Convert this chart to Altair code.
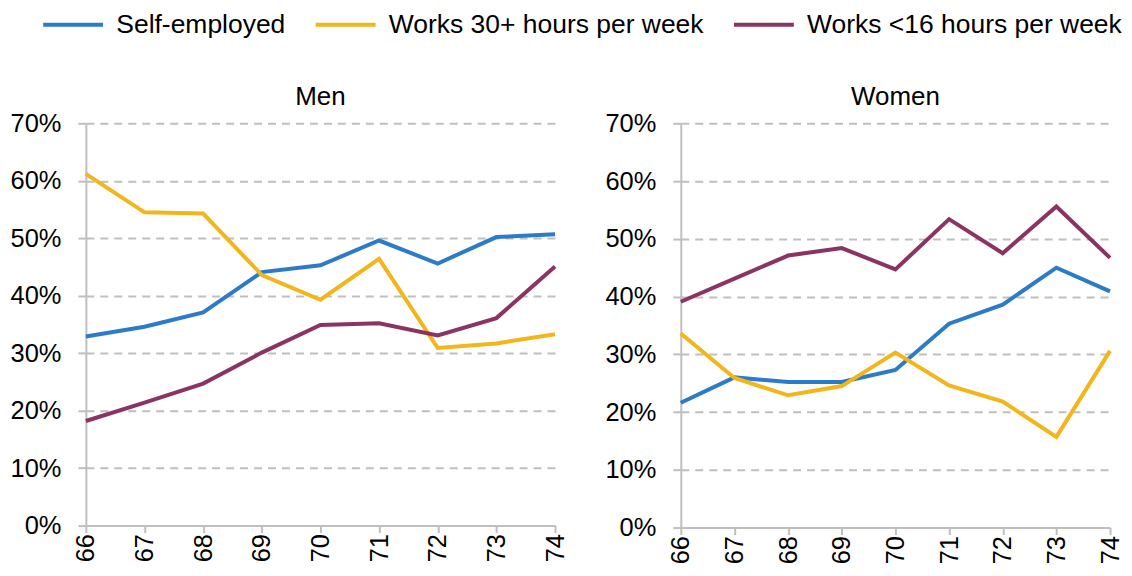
import altair as alt
import pandas as pd

years = [66, 67, 68, 69, 70, 71, 72, 73, 74]
series = ["Self-employed", "Works 30+ hours per week", "Works <16 hours per week"]
colors = ["#2C7BC9", "#F2B61B", "#8B3461"]

men_self = [32.9, 34.6, 37.1, 44.1, 45.3, 49.6, 45.6, 50.2, 50.7]
men_30 = [61.2, 54.5, 54.3, 43.6, 39.3, 46.4, 30.9, 31.7, 33.3]
men_16 = [18.2, 21.4, 24.7, 30.1, 34.9, 35.2, 33.1, 36.1, 45.1]

women_self = [21.6, 26.0, 25.2, 25.2, 27.3, 35.3, 38.6, 45.0, 40.9]
women_30 = [33.6, 25.9, 22.9, 24.5, 30.3, 24.6, 21.8, 15.7, 30.6]
women_16 = [39.1, 43.1, 47.1, 48.4, 44.7, 53.4, 47.5, 55.6, 46.7]

rows = []
for sex, vals in [("Men", [men_self, men_30, men_16]), ("Women", [women_self, women_30, women_16])]:
    for s, v in zip(series, vals):
        for y, val in zip(years, v):
            rows.append({"sex": sex, "series": s, "year": y, "value": val})
df = pd.DataFrame(rows)

FONT = "Liberation Sans"
GRAY = "#BFBFBF"


def panel(sex, w, h):
    return (
        alt.Chart(df[df.sex == sex])
        .mark_line(strokeWidth=4)
        .encode(
            x=alt.X(
                "year:Q",
                scale=alt.Scale(domain=[66, 74], nice=False, zero=False),
                axis=alt.Axis(
                    values=years, labelAngle=-90, grid=False, title=None,
                    tickSize=7, labelPadding=1, format="d",
                ),
            ),
            y=alt.Y(
                "value:Q",
                scale=alt.Scale(domain=[0, 70], nice=False),
                axis=alt.Axis(
                    values=[0, 10, 20, 30, 40, 50, 60, 70],
                    labelExpr="datum.value + '%'",
                    title=None, grid=True, gridDash=[8, 6],
                    tickSize=8, labelPadding=17, domain=True,
                ),
            ),
            color=alt.Color(
                "series:N",
                scale=alt.Scale(domain=series, range=colors),
                sort=series,
                legend=alt.Legend(
                    title=None, orient="none", direction="horizontal",
                    legendX=-26, legendY=-112,
                    symbolType="M-3,0H3", symbolSize=400, symbolStrokeWidth=4,
                    labelFontSize=26.5, labelFont=FONT, labelColor="#000000",
                    labelLimit=0, columnPadding=22, labelOffset=30,
                ),
            ),
        )
        .properties(
            width=w, height=h,
            title=alt.TitleParams(sex, fontSize=26, font=FONT, fontWeight="normal", color="#000000", offset=1),
        )
    )


chart = (
    alt.hconcat(panel("Men", 470, 403), panel("Women", 430, 405), spacing=35)
    .properties(padding={"top": 3, "left": 1, "right": 0, "bottom": 0})
    .configure_view(stroke=None)
    .configure_axis(
        labelFont=FONT, labelFontSize=25.5, labelColor="#000000",
        domainColor=GRAY, domainWidth=2, tickColor=GRAY, tickWidth=2,
        gridColor=GRAY, gridWidth=2,
    )
)

chart.save("out.html", embed_options={"renderer": "svg", "actions": False})
